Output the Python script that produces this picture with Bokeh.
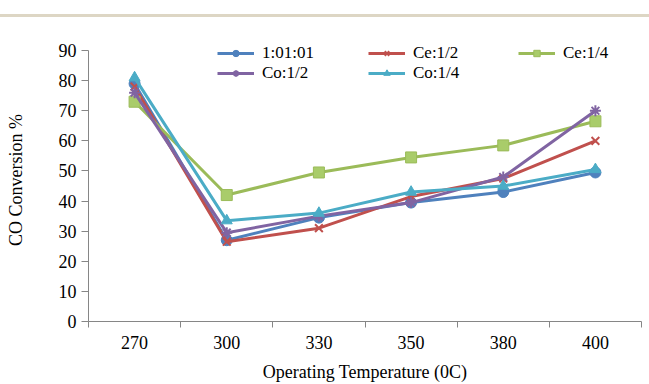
from bokeh.plotting import figure
from bokeh.models import (Range1d, FixedTicker, Legend, LegendItem, Div)
from bokeh.layouts import column
from bokeh.embed import file_html
from bokeh.resources import INLINE

categories = ["270", "300", "330", "350", "380", "400"]
s_111 = [79, 27, 34.5, 39.5, 43, 49.5]
s_ce12 = [78, 26.5, 31, 41.5, 47.5, 60]
s_ce14 = [73, 42, 49.5, 54.5, 58.5, 66.5]
s_co12 = [76, 29.5, 35, 39.5, 48, 70]
s_co14 = [81, 33.5, 36, 43, 45, 50.5]
y_ticks = [0, 10, 20, 30, 40, 50, 60, 70, 80, 90]

FONT = "Liberation Serif"
x_pos = [i + 0.5 for i in range(len(categories))]

bar = Div(text="", width=649, height=3, margin=(14, 0, 0, 0),
          styles={"background-color": "#DDD6C4"})

p = figure(width=649, height=367, output_backend="svg", toolbar_location=None,
           x_range=Range1d(0, len(categories)), y_range=Range1d(0, 94),
           min_border_left=88, min_border_right=8, min_border_top=21, min_border_bottom=62)
p.outline_line_color = None
p.grid.visible = False
p.background_fill_color = "white"

series = [
    ("1:01:01", s_111, "#4F81BD", "circle", "#4F81BD"),
    ("Ce:1/2", s_ce12, "#C0504D", "x", None),
    ("Ce:1/4", s_ce14, "#9BBB59", "square", "#A9CC6A"),
    ("Co:1/2", s_co12, "#8064A2", "asterisk", None),
    ("Co:1/4", s_co14, "#4BACC6", "triangle", "#4BACC6"),
]
rends = {}
for name, ys, col, mk, fill in series:
    ln = p.line(x_pos, ys, line_color=col, line_width=3)
    sc = p.scatter(x_pos, ys, marker=mk, size=11, line_color=col, line_width=2 if fill is None else 1,
                   fill_color=fill if fill else col)
    rends[name] = [ln, sc]

# axes
xa = p.xaxis[0]
xa.ticker = FixedTicker(ticks=x_pos, minor_ticks=list(range(len(categories) + 1)))
xa.major_label_overrides = {x: c for x, c in zip(x_pos, categories)}
xa.major_tick_out = 0
xa.major_tick_in = 0
xa.minor_tick_out = 6
xa.minor_tick_in = 0
xa.minor_tick_line_color = "#868686"
xa.axis_line_color = "#868686"
xa.major_label_text_font = FONT
xa.major_label_text_font_size = "18px"
xa.major_label_text_color = "#000000"
xa.major_label_standoff = 8
xa.axis_label = "Operating Temperature (0C)"
xa.axis_label_text_font = FONT
xa.axis_label_text_font_size = "18px"
xa.axis_label_text_font_style = "normal"
xa.axis_label_text_color = "#000000"
xa.axis_label_standoff = 10

ya = p.yaxis[0]
ya.ticker = FixedTicker(ticks=y_ticks)
ya.bounds = (0, 90)
ya.minor_tick_line_color = None
ya.major_tick_out = 7
ya.major_tick_in = 0
ya.major_tick_line_color = "#868686"
ya.axis_line_color = "#868686"
ya.major_label_text_font = FONT
ya.major_label_text_font_size = "18px"
ya.major_label_text_color = "#000000"
ya.major_label_standoff = 5
ya.axis_label = "CO Conversion %"
ya.axis_label_text_font = FONT
ya.axis_label_text_font_size = "18px"
ya.axis_label_text_font_style = "normal"
ya.axis_label_text_color = "#000000"
ya.axis_label_standoff = 30

# legend: one small legend per entry, three columns by two rows
legend_layout = [("1:01:01", 0, 0), ("Ce:1/2", 1, 0), ("Ce:1/4", 2, 0),
                 ("Co:1/2", 0, 1), ("Co:1/4", 1, 1)]
col_x = [129, 280, 430]
row_y = [258, 238]
for name, c, r in legend_layout:
    leg = Legend(items=[LegendItem(label=name, renderers=rends[name])],
                 location=(col_x[c], row_y[r]), orientation="vertical",
                 glyph_width=37, glyph_height=16, label_height=16, spacing=0,
                 label_standoff=8, padding=0, margin=0, border_line_color=None,
                 background_fill_alpha=0, label_text_font=FONT, label_text_font_size="17px",
                 label_text_color="#000000")
    p.add_layout(leg)

layout = column(bar, p, spacing=0)
open("out.html", "w").write(file_html(layout, INLINE))
